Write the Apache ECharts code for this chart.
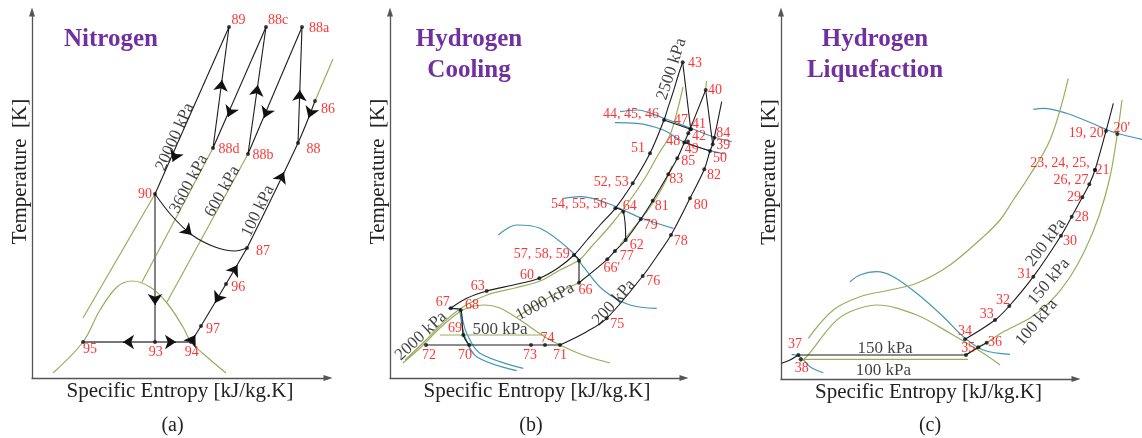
<!DOCTYPE html>
<html><head><meta charset="utf-8">
<script src="https://cdn.jsdelivr.net/npm/echarts@6/dist/echarts.min.js"></script>
<style>html,body{margin:0;padding:0;background:#fff}#c{width:1142px;height:438px}</style>
</head><body><div id="c"></div>
<script>
// ================= DATA (s = entropy, T = temperature, diagram units) =================
const panelTitles = ['Nitrogen', 'Hydrogen\nCooling', 'Hydrogen\nLiquefaction'];
const captions = ['(a)', '(b)', '(c)'];
const xAxisName = 'Specific Entropy [kJ/kg.K]';
const yAxisName = 'Temperature  [K]';

// ---------- (a) Nitrogen ----------
const nStatePoints = [
  [229,411,'89'],[266,411,'88c'],[302,411,'88a'],[213,290,'88d'],[248,284,'88b'],
  [315,337,'86'],[298,295,'88'],[155,244,'90'],[247,190,'87'],[226,154,'96'],
  [201,112,'97'],[191,96,'94'],[155,96,'93'],[83,96,'95']
];
const nProcessLines = [
  [[229,411],[155,244]],
  [[213,290],[229,411]],
  [[266,411],[213,290]],
  [[248,284],[266,411]],
  [[302,411],[248,284]],
  [[298,295],[302,411]],
  [[315,337],[298,295],[247,190]],
  [[155,244],[172,222],[192,203],[215,191],[235,187],[247,190]],
  [[247,190],[226,154],[201,112],[191,96]]
];
const nThrottleLines = [
  [[155,244],[155,96]],
  [[83,96],[191,96]]
];
const nIsobarsGreen = [
  [[83,120],[155,244]],
  [[213,290],[142,156]],
  [[248,284],[167,136]],
  [[333,379],[315,337]]
];
const nDome = [[53,65],[83,96],[100,128],[117,151],[132,157],[150,151],[167,135],[183,111],[191,96],[207,81],[226,65]];
const nFlowArrows = [ // [upstream point, arrow point]
  [[229,411],[172.7,276.3]],[[213,290],[222,358]],[[266,411],[228,321]],
  [[248,284],[257.8,353]],[[302,411],[264,320]],[[298,295],[299.8,348]],
  [[315,337],[308.5,320]],[[247,190],[284,266]],[[180,214.4],[191.7,203]],
  [[226,154],[237.5,173]],[[226,154],[215,135]],[[191,96],[195.4,103]],
  [[155,244],[155,133]],[[155,96],[123,96]],[[155,96],[176,96]]
];
const nPressureLabels = [[175,301,'20000 kPa'],[189,254,'3600 kPa'],[222.5,246.5,'600 kPa'],[258,227,'100 kPa']];

// ---------- (b) Hydrogen cooling ----------
const bStatePoints = [
  [682.7,375.7,'43'],[705.7,348,'40'],[664,318,'44, 45, 46'],[690.7,308.7,'47'],[690.7,308.7,'41'],
  [688.3,304.7,'42'],[684.3,295.5,'48'],[688,296.5,'49'],[714.3,300.3,'84'],[712.7,293.7,'39'],
  [710,287,'50'],[677.3,279.7,'85'],[668.3,263.7,'83'],[652.7,237.3,'81'],[690,239.7,'80'],
  [704.3,268.7,'82'],[650,284.7,'51'],[632.7,254.7,'52, 53'],[615.3,229.7,'54, 55, 56'],[623.3,226.3,'64'],
  [640.7,218.7,'79'],[625.7,198,'62'],[615,187,'77'],[607.3,178.7,"66'"],[574,183,'57, 58, 59'],
  [579,177.3,''],[579,155.3,'66'],[539.3,159.7,'60'],[486.7,147,'63'],[450.7,129.7,'67'],
  [460.7,128,'68'],[463.3,103,'69'],[426,93,'72'],[469.3,93,'70'],[531,93,'73'],
  [545,93,'74'],[560,93,'71'],[642.7,162,'76'],[606.7,119.7,'75'],[671,203,'78']
];
const bProcessLines = [
  [[682.7,375.7],[678.3,363],[673.3,346.3],[668.3,331.3],[664,318],[650,284.7],[632.7,254.7],[615.3,229.7],[600,213],[587,198],[574,183],[558,170],[539.3,159.7],[513.3,153],[486.7,147],[466.7,139.7],[450.7,129.7]],
  [[705.7,348],[688.3,304.7],[684.3,295.5],[677.3,279.7],[668.3,263.7],[652.7,237.3],[640.7,218.7],[625.7,198],[615,187],[607.3,178.7],[579,155.3]],
  [[721.7,336.3],[714.3,300.3],[712.7,293.7],[710,287],[704.3,268.7],[690,239.7],[671,203],[657,182],[642.7,162],[606.7,119.7],[586.7,106.3],[560,93]],
  [[682.7,375.7],[690.7,308.7]],
  [[705.7,348],[712.7,293.7]],
  [[664,318],[690.7,308.7]],
  [[684.3,295.5],[710,287]],
  [[574,183],[579,177.3],[579,155.3]],
  [[615.3,229.7],[623.3,226.3],[625.7,198]],
  [[450.7,129.7],[460.7,128],[463.3,103],[469.3,93]],
  [[426,93],[560,93]]
];
const bIsobarsGreen = [
  [[683,351],[678,330],[670,303],[658,283],[645,260],[628,235],[610,212],[592,192],[579,178],[560,168],[540,157],[515,150],[487,143],[463,131],[445,117],[425,97],[405,78]],
  [[579,155.3],[550,141.3],[517,121]],
  [[440,103],[545,103]],
  [[672,272],[662,250],[648,228],[632,208],[620,193]],
  [[705.7,348],[706.5,357]]
];
const bDome = [[403,75],[420,90],[440,110],[458,125],[470,131],[485,133],[500,130],[520,118],[545,101],[560,93],[583,83],[610,75]];
const bBlueCurves = [
  [[620,326.3],[636.7,328],[663,320],[690,310],[713,301.3],[731.7,296.3]],
  [[615,315.3],[636.7,314.7],[663.3,308],[683.3,296.3],[710,287.3],[725,284]],
  [[563.3,239.7],[580,241.3],[603.3,236.3],[623.3,228],[641.7,219.7],[673.3,209.7]],
  [[498.3,203],[516.7,213],[540,209.7],[570,188],[583.3,171.3],[603.3,148],[630,133],[656.7,129.7]],
  [[448.3,129.7],[458.3,128],[466.7,104.7],[480,84.7],[523.3,69.7]],
  [[460,126.3],[465,101.3],[476.7,81.3],[516.7,67.3]]
];
const bPressureLabels = [[671.7,369,'2500 kPa'],[421,102,'2000 kPa'],[545,136.3,'1000 kPa'],[500,108.7,'500 kPa'],[614,135.5,'200 kPa']];

// ---------- (c) Hydrogen liquefaction ----------
const cStatePoints = [
  [1106,307,'19, 20'],[1117.3,304,"20'"],[1095,268,'21'],[1095,268,'23, 24, 25,'],[1089.3,253.7,'26, 27'],
  [1082.3,240.7,'29'],[1071.7,221.3,'28'],[1061,202.3,'30'],[1033.3,161.3,'31'],[1009.3,132,'32'],
  [995,118,'33'],[965,98.7,'34'],[966,83,'35'],[978.3,90.7,''],[986.7,95.3,'36'],
  [798.3,83,'37'],[800.7,78.7,'38']
];
const cProcessLines = [
  [[1113.3,334.7],[1106,307],[1095,268],[1089.3,253.7],[1082.3,240.7],[1071.7,221.3],[1061,202.3],[1033.3,161.3],[1009.3,132],[995,118],[965,98.7]],
  [[966,83],[978.3,90.7],[986.7,95.3]],
  [[798.3,83],[966,83]],
  [[781.7,74.7],[790,78],[798.3,83]]
];
const cIsobarsGreen = [
  [[1122,338],[1117.3,304],[1110,261],[1099,222],[1085,188],[1068,158],[1050,136],[1030,120],[1003,106],[986.7,95.3],[978.3,90.7],[966,83]],
  [[808.3,99.7],[833.3,128],[860,141.3],[890,148],[916.7,154.7],[950,173],[983.3,201.3],[1000,218],[1013.3,238],[1026.7,258],[1050,298],[1068.3,359.7]],
  [[800.7,78.7],[968,78.7]]
];
const cDome = [[800,76],[806.7,81.3],[833.3,114.7],[850,126.3],[876.7,133],[916.7,123],[950,104.7],[983.3,84.7],[1000,73]];
const cBlueCurves = [
  [[1033.3,328.7],[1043.3,329.7],[1066.7,324.7],[1100,311.3],[1116.7,304.7],[1142,298.7]],
  [[850,156.3],[860,163],[876.7,166.3],[893.3,161.3],[916.7,144.7],[943.3,121.3],[963.3,101.3],[983.3,88],[1010,83.7]],
  [[791.7,83.7],[800,81.3],[810,71.3],[823.3,65.3]]
];
const cPressureLabels = [[1046,195.5,'200 kPa'],[1049,156.3,'150 kPa'],[1036.7,115.5,'100 kPa'],[885,89.7,'150 kPa'],[883.3,67.3,'100 kPa']];

// ================= LAYOUT / STYLE =================
const nLabelOffset = [[9.5,-7],[12,-7],[17,1],[16,1],[15,1],[13,8.5],[15.6,6.7],[-10,0],[16,3.4],[12.3,3.4],[12,3],[0.7,10],[0.7,10],[7,7]];
const bLabelOffset = [[12.3,0.7],[9.3,0],[-33,-5.3],[-9.7,-9.3],[8.3,-4.8],[10.7,2.7],[-11,-1],[3.7,8.2],[9,-4.4],[10.6,0.7],
  [10,7.3],[11,3.4],[8,5.2],[9,6],[10.7,7],[9.7,5.7],[-12,-4.6],[-21.4,-1],[-36.3,-4],[6.4,-5],
  [10,5.7],[11,5.3],[11.7,5.7],[4.4,9],[-32.3,-0.3],[0,0],[6.5,7.3],[-12.3,-3.3],[-9,-4.3],[-8,-6.3],
  [11.3,-5],[-8.3,-6.3],[3,10],[-4.3,10],[-1,10],[2.5,-6.7],[0,10],[10.6,5.7],[10.6,6],[9.7,6.7]];
const cLabelOffset = [[-19.7,2],[4.4,-6],[7.5,0.5],[-35,-6.7],[-18.3,-4.3],[-8.3,0],[10,1],[9,6],[-8.8,-2],[-6.3,-5.5],
  [-8.3,-5.7],[0,-8.3],[2.3,-7],[0,0],[8.3,0],[-3.3,-10.3],[1,9]];
const nPressureAngle = [66,62,61,64];
const bPressureAngle = [72,43,28,0,48];
const cPressureAngle = [53,50,50,0,0];

const SERIF = "'Liberation Serif','DejaVu Serif',serif";
const GREEN = '#9aad5c', BLUE = '#4596b3', BLACK = '#1c1c1c', GRAY = '#777', RED = '#ff0000', PURPLE = '#7030a0';
// data grids (1 diagram unit = 1 px), invisible axes
const dataGrids = [
  {left:32, top:0, width:308, height:378},
  {left:390, top:0, width:370, height:378},
  {left:781, top:0, width:361, height:379}
];
const dataX = [[32,340],[390,760],[781,1142]];
const dataY = [[60,438],[60,438],[59,438]];
// visible axis frames
const axisGrids = [
  {left:32, top:12, width:296, height:366},
  {left:390, top:12, width:294, height:366},
  {left:781, top:12, width:295, height:367}
];

const series = [];
function addLines(p, lines, color, width, z) {
  lines.forEach(pts => series.push({
    type:'line', xAxisIndex:p, yAxisIndex:p, data:pts, symbol:'none', smooth:0.35,
    clip:false, silent:true, z:z, animation:false, lineStyle:{color:color, width:width}
  }));
}
function addArrows(p, arrows) {
  const data = arrows.map(a => {
    const dx = a[1][0]-a[0][0], dy = a[1][1]-a[0][1], L = Math.hypot(dx,dy);
    return {coords:[[a[1][0]-3*dx/L, a[1][1]-3*dy/L], a[1]]};
  });
  series.push({type:'lines', coordinateSystem:'cartesian2d', xAxisIndex:p, yAxisIndex:p,
    symbol:['none','arrow'], symbolSize:11, silent:true, z:7, animation:false, clip:false,
    lineStyle:{color:'#111', width:1, opacity:1}, data:data});
}
function addPoints(p, pts, offs) {
  series.push({type:'scatter', xAxisIndex:p, yAxisIndex:p, symbolSize:4, silent:true, z:8, animation:false, clip:false,
    itemStyle:{color:'#111'}, data:pts.map(q => [q[0], q[1]])});
  series.push({type:'scatter', xAxisIndex:p, yAxisIndex:p, symbolSize:1, silent:true, z:9, animation:false, clip:false,
    itemStyle:{color:'rgba(0,0,0,0)'},
    label:{show:true, position:'inside', formatter:d => d.name, color:RED, fontSize:14, fontFamily:SERIF},
    data:pts.map((q,i) => ({value:[q[0], q[1]], name:q[2], label:{offset:offs[i]}}))});
}
function addPressure(p, labs, angles) {
  series.push({type:'scatter', xAxisIndex:p, yAxisIndex:p, symbolSize:1, silent:true, z:9, animation:false, clip:false,
    itemStyle:{color:'rgba(0,0,0,0)'},
    label:{show:true, position:'inside', formatter:d => d.name, color:'#111', fontSize:17, fontFamily:SERIF},
    data:labs.map((q,i) => ({value:[q[0], q[1]], name:q[2], label:{rotate:angles[i]}}))});
}

// panel a
addLines(0, [nDome].concat(nIsobarsGreen), GREEN, 1.2, 2);
addLines(0, nThrottleLines, GRAY, 1.8, 3);
addLines(0, nProcessLines, BLACK, 1.1, 4);
addArrows(0, nFlowArrows);
addPoints(0, nStatePoints, nLabelOffset);
addPressure(0, nPressureLabels, nPressureAngle);
// panel b
addLines(1, bBlueCurves, BLUE, 1.2, 2);
addLines(1, [bDome].concat(bIsobarsGreen), GREEN, 1.2, 2);
addLines(1, bProcessLines, BLACK, 1.1, 4);
addPoints(1, bStatePoints, bLabelOffset);
addPressure(1, bPressureLabels, bPressureAngle);
// panel c
addLines(2, cBlueCurves, BLUE, 1.2, 2);
addLines(2, [cDome].concat(cIsobarsGreen), GREEN, 1.2, 2);
addLines(2, cProcessLines, BLACK, 1.1, 4);
addPoints(2, cStatePoints, cLabelOffset);
addPressure(2, cPressureLabels, cPressureAngle);

const titleCenters = [106, 464, 870];
const captionCenters = [167.5, 526, 925];
const title = [];
panelTitles.forEach((t,i) => title.push({text:t, left:titleCenters[i], top:19, textAlign:'center',
  textStyle:{fontFamily:SERIF, fontSize:25, fontWeight:'bold', color:PURPLE, lineHeight:31}}));
captions.forEach((t,i) => title.push({text:t, left:captionCenters[i], top:411, textAlign:'center',
  textStyle:{fontFamily:SERIF, fontSize:20, fontWeight:'normal', color:'#222', lineHeight:20}}));

const hidden = {axisLine:{show:false}, axisTick:{show:false}, axisLabel:{show:false}, splitLine:{show:false}};
const axisLine = {show:true, onZero:false, symbol:['none','triangle'], symbolSize:[6,9], lineStyle:{color:'#555', width:1.3}};
const xAxes = dataGrids.map((g,i) => Object.assign({gridIndex:i, type:'value', min:dataX[i][0], max:dataX[i][1]}, hidden));
const yAxes = dataGrids.map((g,i) => Object.assign({gridIndex:i, type:'value', min:dataY[i][0], max:dataY[i][1]}, hidden));
axisGrids.forEach((g,i) => {
  xAxes.push({gridIndex:3+i, type:'value', min:0, max:1,
    axisLine:axisLine, axisTick:{show:false}, axisLabel:{show:false}, splitLine:{show:false},
    name:xAxisName, nameLocation:'middle', nameGap:3,
    nameTextStyle:{fontFamily:SERIF, fontSize:21, color:'#222', lineHeight:21}});
  yAxes.push({gridIndex:3+i, type:'value', min:0, max:1,
    axisLine:axisLine, axisTick:{show:false}, axisLabel:{show:false}, splitLine:{show:false},
    name:yAxisName, nameLocation:'middle', nameGap:1,
    nameTextStyle:{fontFamily:SERIF, fontSize:21, color:'#222', lineHeight:21, padding:[0,0,0,47]}});
});
const option = {
  animation:false,
  backgroundColor:'#fff',
  textStyle:{fontFamily:SERIF},
  title:title,
  grid:dataGrids.concat(axisGrids).map(g => Object.assign({containLabel:false, outerBoundsMode:'none'}, g)),
  xAxis:xAxes,
  yAxis:yAxes,
  series:series
};
const chart = echarts.init(document.getElementById('c'), null, {renderer:'canvas'});
chart.setOption(option);
</script></body></html>
